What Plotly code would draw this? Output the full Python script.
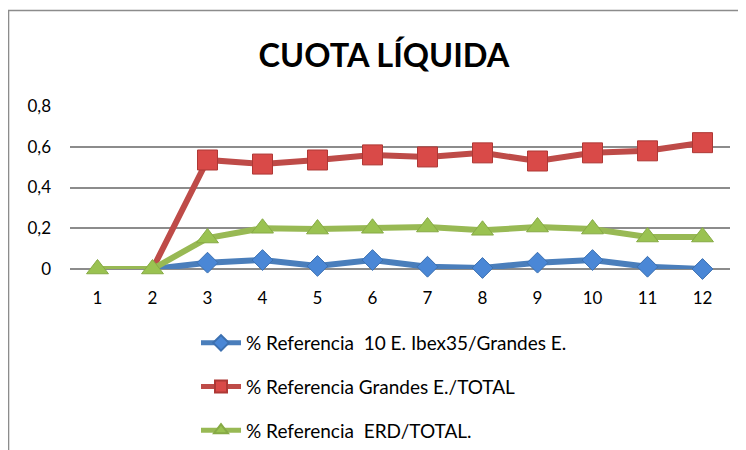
import plotly.graph_objects as go

categories = [1, 2, 3, 4, 5, 6, 7, 8, 9, 10, 11, 12]
blue_vals = [0, 0, 0.031, 0.044, 0.015, 0.044, 0.011, 0.005, 0.031, 0.044, 0.011, 0.0]
red_vals = [0, 0, 0.535, 0.515, 0.535, 0.56, 0.55, 0.57, 0.53, 0.57, 0.58, 0.62]
green_vals = [0, 0, 0.152, 0.20, 0.196, 0.20, 0.206, 0.19, 0.206, 0.196, 0.157, 0.157]
names = ["% Referencia  10 E. Ibex35/Grandes E.",
         "% Referencia Grandes E./TOTAL",
         "% Referencia  ERD/TOTAL."]
ytick_vals = [0, 0.2, 0.4, 0.6, 0.8]
ytick_text = ["0", "0,2", "0,4", "0,6", "0,8"]

OFF = 8  # page body margin
W, H = 746, 450
L = 70 - OFF
T = 106 - OFF
B = H - (269 - OFF)
R = W - (730.5 - OFF)
pw, ph = W - L - R, H - T - B

def px_x(p):
    return (p - OFF - L) / pw

def px_y(p):
    return (H - B - (p - OFF)) / ph

FONT = "Lato, Open Sans, sans-serif"

fig = go.Figure()
sizes_blue = [0 if i < 2 else 16 for i in range(len(categories))]
sizes_red = [0 if i < 2 else 20 for i in range(len(categories))]

fig.add_trace(go.Scatter(
    x=categories, y=blue_vals, name=names[0], mode="lines+markers",
    line=dict(color="#4A7EBB", width=6),
    marker=dict(symbol="diamond", size=sizes_blue, color="#4A87D6", opacity=1,
                line=dict(color="#3C70B0", width=1)),
    legendgroup="a", cliponaxis=False))
fig.add_trace(go.Scatter(
    x=categories, y=red_vals, name=names[1], mode="lines+markers",
    line=dict(color="#BE4B48", width=6),
    marker=dict(symbol="square", size=sizes_red, color="#D94A48", opacity=1,
                line=dict(color="#AE3835", width=1)),
    legendgroup="b", cliponaxis=False))
fig.add_trace(go.Scatter(
    x=categories, y=green_vals, name=names[2], mode="lines+markers",
    line=dict(color="#98B954", width=6),
    marker=dict(symbol="triangle-up", size=19, color="#9AC251", opacity=1,
                line=dict(color="#86AA45", width=1)),
    legendgroup="c", cliponaxis=False))

fig.add_shape(type="rect", xref="paper", yref="paper",
              x0=px_x(8.5), x1=px_x(770), y0=px_y(480), y1=px_y(10.5),
              line=dict(color="#8C8C8C", width=1.5), fillcolor="rgba(0,0,0,0)",
              layer="below")

fig.update_layout(
    width=W, height=H,
    margin=dict(l=L, r=R, t=T, b=B, autoexpand=False),
    paper_bgcolor="white", plot_bgcolor="white",
    font=dict(family=FONT, size=17, color="black"),
    title=dict(text="<b>CUOTA LÍQUIDA</b>", x=(384 - OFF) / W, xanchor="center",
               y=1 - (56 - OFF) / H, yanchor="middle",
               font=dict(size=32.5, family=FONT, color="black")),
    xaxis=dict(range=[0.5, 12.5], tickvals=categories, ticktext=[str(c) for c in categories],
               showgrid=False, zeroline=False, showline=False, ticks="",
               ticklabelstandoff=17, tickfont=dict(size=17)),
    yaxis=dict(range=[0, 0.8], tickvals=ytick_vals, ticktext=ytick_text,
               showgrid=True, gridcolor="#8C8C8C", gridwidth=1.5,
               zeroline=True, zerolinecolor="#8C8C8C", zerolinewidth=1.5,
               showline=False, ticks="", ticklabelstandoff=18, tickfont=dict(size=17)),
    showlegend=True,
    legend=dict(xref="container", yref="container",
                x=(196 - OFF) / W, y=1 - (324 - OFF) / H, xanchor="left", yanchor="top",
                traceorder="grouped", tracegroupgap=16, itemsizing="constant",
                font=dict(size=19), bgcolor="rgba(0,0,0,0)", itemwidth=40),
)

fig.write_html("out.html")
